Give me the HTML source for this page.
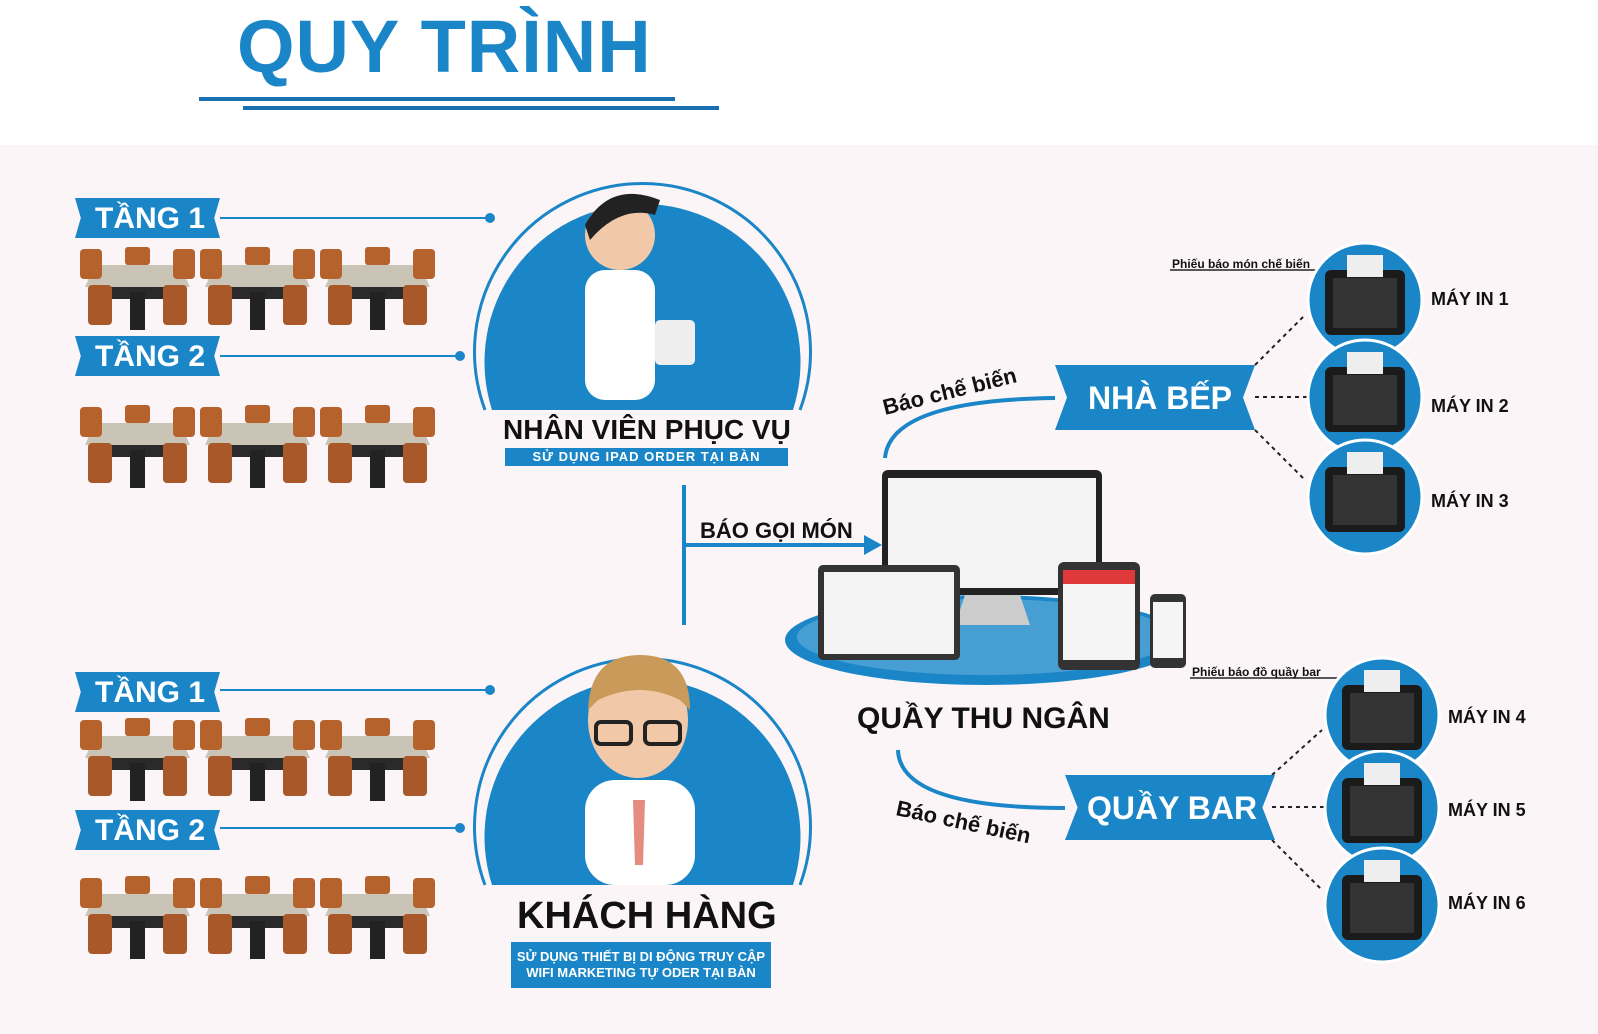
<!DOCTYPE html>
<html><head><meta charset="utf-8">
<style>
*{margin:0;padding:0;box-sizing:border-box}
body{width:1598px;height:1034px;position:relative;overflow:hidden;background:#fff;font-family:"Liberation Sans",sans-serif}
.abs{position:absolute}
.bg{left:0;top:145px;width:1598px;height:889px;background:#fbf5f8}
.title{left:237px;top:4px;font-size:74px;font-weight:bold;color:#1a86c8;letter-spacing:1px}
.banner{background:#1a86c8;color:#fff;font-weight:bold;font-size:30px;height:40px;line-height:42px;padding-left:20px;clip-path:polygon(0 0,100% 0,96% 50%,100% 100%,0 100%,4% 50%)}
.lbl{font-weight:bold;color:#111}
.sub{background:#1a86c8;color:#fff;font-weight:bold;text-align:center;font-size:13px;letter-spacing:1px}
</style></head><body>
<div class="abs bg"></div>
<div class="abs title">QUY TRÌNH</div>
<div class="abs" style="left:199px;top:97px;width:476px;height:4px;background:#1a6fb0"></div>
<div class="abs" style="left:243px;top:106px;width:476px;height:4px;background:#1a6fb0"></div>

<svg class="abs" style="left:0;top:0" width="1598" height="1034">
 <defs>
  <g id="tbl">
   <rect x="30" y="22" width="55" height="30" fill="#2a2a2a"/>
   <polygon points="15,18 100,18 110,40 5,40" fill="#c9c4b5"/>
   <rect x="0" y="2" width="22" height="30" rx="4" fill="#b5622c"/>
   <rect x="93" y="2" width="22" height="30" rx="4" fill="#b5622c"/>
   <rect x="8" y="38" width="24" height="40" rx="4" fill="#a9582a"/>
   <rect x="83" y="38" width="24" height="40" rx="4" fill="#a9582a"/>
   <rect x="45" y="0" width="25" height="18" rx="3" fill="#b5622c"/>
   <rect x="50" y="45" width="15" height="38" fill="#222"/>
  </g>
  <g id="printer">
   <rect x="-40" y="-30" width="80" height="65" rx="6" fill="#1b1b1b"/>
   <rect x="-32" y="-22" width="64" height="50" fill="#333"/>
   <rect x="-18" y="-45" width="36" height="22" fill="#eee"/>
  </g>
 </defs>
 <line x1="220" y1="218" x2="490" y2="218" stroke="#1a86c8" stroke-width="2"/><circle cx="490" cy="218" r="5" fill="#1a86c8"/>
 <line x1="220" y1="356" x2="460" y2="356" stroke="#1a86c8" stroke-width="2"/><circle cx="460" cy="356" r="5" fill="#1a86c8"/>
 <line x1="220" y1="690" x2="490" y2="690" stroke="#1a86c8" stroke-width="2"/><circle cx="490" cy="690" r="5" fill="#1a86c8"/>
 <line x1="220" y1="828" x2="460" y2="828" stroke="#1a86c8" stroke-width="2"/><circle cx="460" cy="828" r="5" fill="#1a86c8"/>
 <use href="#tbl" x="80" y="247"/><use href="#tbl" x="200" y="247"/><use href="#tbl" x="320" y="247"/>
 <use href="#tbl" x="80" y="405"/><use href="#tbl" x="200" y="405"/><use href="#tbl" x="320" y="405"/>
 <use href="#tbl" x="80" y="718"/><use href="#tbl" x="200" y="718"/><use href="#tbl" x="320" y="718"/>
 <use href="#tbl" x="80" y="876"/><use href="#tbl" x="200" y="876"/><use href="#tbl" x="320" y="876"/>
 <path d="M485,410 A168,168 0 1 1 800,410" fill="none" stroke="#1a86c8" stroke-width="3"/>
 <path d="M492,410 A158,158 0 1 1 793,410 Z" fill="#1a86c8"/>
 <rect x="585" y="270" width="70" height="130" rx="20" fill="#fff"/>
 <circle cx="620" cy="235" r="35" fill="#f2c9a8"/><path d="M585,225 Q610,180 660,200 L655,215 Q620,205 590,240Z" fill="#222"/>
 <rect x="655" y="320" width="40" height="45" rx="5" fill="#eee"/>
 <path d="M485,885 A168,168 0 1 1 800,885" fill="none" stroke="#1a86c8" stroke-width="3"/>
 <path d="M492,885 A158,158 0 1 1 793,885 Z" fill="#1a86c8"/>
 <rect x="585" y="780" width="110" height="105" rx="30" fill="#fff"/>
 <polygon points="633,800 645,800 643,865 635,865" fill="#e58b80"/>
 <ellipse cx="638" cy="720" rx="50" ry="58" fill="#f2c9a8"/><path d="M588,710 Q590,655 640,655 Q690,655 690,710 L680,700 Q640,680 598,700Z" fill="#c99a5a"/>
 <rect x="596" y="722" width="35" height="22" rx="5" fill="none" stroke="#222" stroke-width="4"/><rect x="645" y="722" width="35" height="22" rx="5" fill="none" stroke="#222" stroke-width="4"/>
 <line x1="684" y1="485" x2="684" y2="625" stroke="#1a86c8" stroke-width="4"/>
 <line x1="684" y1="545" x2="868" y2="545" stroke="#1a86c8" stroke-width="4"/>
 <polygon points="882,545 864,535 864,555" fill="#1a86c8"/>
 <ellipse cx="985" cy="640" rx="200" ry="45" fill="#1a86c8"/><ellipse cx="985" cy="637" rx="188" ry="38" fill="#fff" opacity="0.2"/>
 <rect x="882" y="470" width="220" height="125" rx="6" fill="#222"/><rect x="888" y="478" width="208" height="110" fill="#f3f3f3"/>
 <polygon points="965,595 1020,595 1030,625 955,625" fill="#ccc"/>
 <rect x="818" y="565" width="142" height="95" rx="5" fill="#333"/><rect x="824" y="572" width="130" height="82" fill="#f3f3f3"/>
 <rect x="1058" y="562" width="82" height="108" rx="6" fill="#333"/><rect x="1063" y="570" width="72" height="90" fill="#f5f5f5"/><rect x="1063" y="570" width="72" height="14" fill="#e0393c"/>
 <rect x="1150" y="594" width="36" height="74" rx="5" fill="#333"/><rect x="1153" y="602" width="30" height="56" fill="#f5f5f5"/>
 <path d="M885,458 Q890,400 1055,398" fill="none" stroke="#1a86c8" stroke-width="4"/>
 <path d="M898,750 Q900,808 1065,808" fill="none" stroke="#1a86c8" stroke-width="4"/>
 <g stroke="#222" stroke-width="2" stroke-dasharray="4,4">
  <line x1="1255" y1="365" x2="1305" y2="315"/><line x1="1255" y1="397" x2="1310" y2="397"/><line x1="1255" y1="430" x2="1305" y2="480"/>
  <line x1="1272" y1="775" x2="1322" y2="730"/><line x1="1272" y1="807" x2="1325" y2="807"/><line x1="1272" y1="840" x2="1322" y2="890"/>
 </g>
 <line x1="1170" y1="270" x2="1330" y2="270" stroke="#222" stroke-width="1.5"/>
 <line x1="1190" y1="678" x2="1345" y2="678" stroke="#222" stroke-width="1.5"/>
 <g fill="#1a86c8" stroke="#fff" stroke-width="3">
  <circle cx="1365" cy="300" r="57"/><circle cx="1365" cy="397" r="57"/><circle cx="1365" cy="497" r="57"/>
  <circle cx="1382" cy="715" r="57"/><circle cx="1382" cy="808" r="57"/><circle cx="1382" cy="905" r="57"/>
 </g>
 <use href="#printer" x="1365" y="300"/><use href="#printer" x="1365" y="397"/><use href="#printer" x="1365" y="497"/>
 <use href="#printer" x="1382" y="715"/><use href="#printer" x="1382" y="808"/><use href="#printer" x="1382" y="905"/>
 <text x="885" y="415" font-family="Liberation Sans" font-weight="bold" font-size="22" fill="#111" transform="rotate(-14 885 415)">Báo chế biến</text>
 <text x="895" y="815" font-family="Liberation Sans" font-weight="bold" font-size="22" fill="#111" transform="rotate(12 895 815)">Báo chế biến</text>
 <text x="1172" y="268" font-family="Liberation Sans" font-weight="bold" font-size="12" fill="#111">Phiếu báo món chế biến</text>
 <text x="1192" y="676" font-family="Liberation Sans" font-weight="bold" font-size="12" fill="#111">Phiếu báo đồ quầy bar</text>
</svg>

<div class="abs banner" style="left:75px;top:198px;width:145px">TẦNG 1</div>
<div class="abs banner" style="left:75px;top:336px;width:145px">TẦNG 2</div>
<div class="abs banner" style="left:75px;top:672px;width:145px">TẦNG 1</div>
<div class="abs banner" style="left:75px;top:810px;width:145px">TẦNG 2</div>

<div class="abs lbl" style="left:503px;top:414px;font-size:28px">NHÂN VIÊN PHỤC VỤ</div>
<div class="abs sub" style="left:505px;top:448px;width:283px;height:18px;line-height:18px">SỬ DỤNG IPAD ORDER TẠI BÀN</div>
<div class="abs lbl" style="left:517px;top:895px;font-size:38px">KHÁCH HÀNG</div>
<div class="abs sub" style="left:511px;top:942px;width:260px;height:46px;padding-top:7px;line-height:16px;letter-spacing:0">SỬ DỤNG THIẾT BỊ DI ĐỘNG TRUY CẬP<br>WIFI MARKETING TỰ ODER TẠI BÀN</div>
<div class="abs lbl" style="left:700px;top:518px;font-size:22px">BÁO GỌI MÓN</div>
<div class="abs lbl" style="left:857px;top:702px;font-size:30px">QUẦY THU NGÂN</div>
<div class="abs banner" style="left:1055px;top:365px;width:200px;height:65px;line-height:67px;font-size:32px;padding-left:33px;clip-path:polygon(0 0,100% 0,94% 50%,100% 100%,0 100%,6% 50%)">NHÀ BẾP</div>
<div class="abs banner" style="left:1065px;top:775px;width:210px;height:65px;line-height:67px;font-size:32px;padding-left:22px;clip-path:polygon(0 0,100% 0,94% 50%,100% 100%,0 100%,6% 50%)">QUẦY BAR</div>

<div class="abs lbl" style="left:1431px;top:289px;font-size:18px">MÁY IN 1</div>
<div class="abs lbl" style="left:1431px;top:396px;font-size:18px">MÁY IN 2</div>
<div class="abs lbl" style="left:1431px;top:491px;font-size:18px">MÁY IN 3</div>
<div class="abs lbl" style="left:1448px;top:707px;font-size:18px">MÁY IN 4</div>
<div class="abs lbl" style="left:1448px;top:800px;font-size:18px">MÁY IN 5</div>
<div class="abs lbl" style="left:1448px;top:893px;font-size:18px">MÁY IN 6</div>
</body></html>
